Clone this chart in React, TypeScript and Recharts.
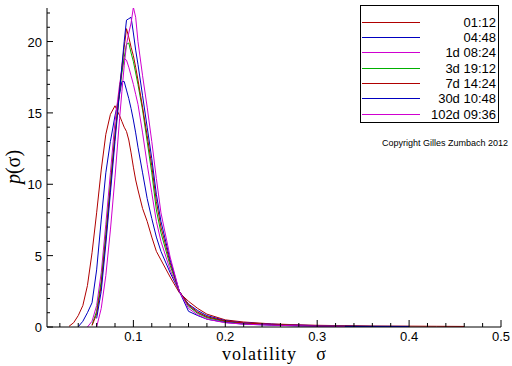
import { LineChart, Line, XAxis, YAxis, Legend } from "recharts";

// volatility grid (x values shared by every curve)
const xs = [0.025, 0.03, 0.035, 0.04, 0.045, 0.05, 0.055, 0.06, 0.065, 0.07, 0.075, 0.08, 0.085, 0.0875, 0.09, 0.0925, 0.095, 0.0975, 0.1, 0.1025, 0.105, 0.11, 0.115, 0.12, 0.125, 0.13, 0.14, 0.15, 0.16, 0.17, 0.18, 0.2, 0.22, 0.25, 0.28, 0.3, 0.33, 0.36, 0.4, 0.43, 0.46];

const s0112 = [null, 0.05, 0.3, 0.8, 1.5, 2.9, 5.2, 8.0, 11.0, 13.5, 14.9, 15.5, 14.8, 14.4, 14.0, 13.7, 13.1, 12.2, 11.2, 10.3, 9.6, 8.3, 7.4, 6.3, 5.3, 4.7, 3.5, 2.4, 1.8, 1.3, 0.9, 0.5, 0.35, 0.22, 0.15, 0.12, 0.09, 0.07, 0.06, 0.05, 0.04];
const s0448 = [null, null, null, 0.02, 0.4, 1.0, 1.7, 4.0, 7.5, 10.8, 13.0, 14.8, 16.3, 17.2, 17.2, 16.6, 16.0, 15.3, 14.5, 13.6, 12.6, 10.8, 9.0, 7.6, 6.3, 5.3, 3.8, 2.5, 1.6, 1.15, 0.8, 0.45, 0.3, 0.2, 0.13, 0.1, 0.07, 0.05, 0.04, null, null];
const s1d = [null, null, null, null, null, 0.0, 0.4, 1.5, 3.8, 7.2, 10.8, 14.4, 17.0, 18.0, 18.8, 18.7, 18.2, 17.6, 17.0, 16.3, 15.6, 13.6, 11.4, 9.4, 7.4, 6.0, 4.0, 2.5, 1.5, 1.0, 0.7, 0.4, 0.28, 0.18, 0.12, 0.09, 0.06, null, null, null, null];
const s3d = [null, null, null, null, null, null, 0.15, 1.1, 3.2, 6.5, 10.0, 13.5, 16.5, 17.8, 18.9, 19.8, 19.9, 19.2, 18.6, 17.8, 17.0, 15.2, 13.0, 10.8, 8.2, 6.6, 4.3, 2.5, 1.45, 0.95, 0.65, 0.38, 0.25, 0.16, 0.1, 0.08, 0.05, null, null, null, null];
const s7d = [null, null, null, null, null, null, 0.1, 0.9, 2.9, 6.2, 9.8, 13.4, 16.6, 18.2, 19.6, 20.9, 20.3, 19.6, 19.0, 18.2, 17.3, 15.4, 13.4, 11.3, 8.8, 7.0, 4.5, 2.5, 1.55, 1.05, 0.72, 0.42, 0.28, 0.18, 0.12, 0.09, 0.06, 0.04, null, null, null];
const s30d = [null, null, null, null, null, null, null, 0.6, 2.5, 5.8, 9.4, 13.0, 16.5, 18.3, 20.0, 21.5, 21.6, 21.7, 20.6, 19.4, 18.4, 16.2, 14.0, 11.8, 9.3, 7.4, 4.7, 2.5, 1.1, 0.8, 0.55, 0.32, 0.2, 0.13, 0.08, 0.06, 0.04, 0.03, 0.02, null, null];
const s102d = [null, null, null, null, null, null, null, 0.0, 1.3, 3.6, 6.8, 10.5, 14.6, 16.5, 18.3, 19.8, 20.6, 21.3, 22.4, 21.7, 20.0, 17.6, 15.4, 13.0, 10.4, 8.0, 4.9, 2.5, 1.3, 0.85, 0.55, 0.3, 0.2, 0.13, 0.08, 0.06, 0.04, null, null, null, null];

const seriesLabels = ["01:12", "04:48", "1d 08:24", "3d 19:12", "7d 14:24", "30d 10:48", "102d 09:36"];
const seriesColors = ["#b00000", "#0000c0", "#d000d0", "#00b000", "#b00000", "#0000c0", "#d000d0"];
const seriesValues = [s0112, s0448, s1d, s3d, s7d, s30d, s102d];

const xTicks = [0.02, 0.04, 0.06, 0.08, 0.1, 0.12, 0.14, 0.16, 0.18, 0.2, 0.22, 0.24, 0.26, 0.28, 0.3, 0.32, 0.34, 0.36, 0.38, 0.4, 0.42, 0.44, 0.46, 0.48, 0.5];
const yTicks = [0, 1, 2, 3, 4, 5, 6, 7, 8, 9, 10, 11, 12, 13, 14, 15, 16, 17, 18, 19, 20, 21, 22];

const data = xs.map((x, i) => {
    const row: Record<string, number | null> = { x };
    seriesValues.forEach((s, k) => { row[`s${k}`] = s[i]; });
    return row;
});

const tickFont = "'Liberation Sans', Arial, sans-serif";
const serif = "'Liberation Serif', 'Times New Roman', serif";

const XTick = ({ x, y, payload }: any) => {
    const v = payload.value;
    const major = Math.abs(v * 10 - Math.round(v * 10)) < 1e-6;
    return (
        <g>
            <line x1={x} y1={y} x2={x} y2={y - (major ? 7 : 4)} stroke="#000" />
            {major && (
                <text x={x} y={y + 14} textAnchor="middle" fontSize={13} fontFamily={tickFont} fill="#000">{v.toFixed(1)}</text>
            )}
        </g>
    );
};

const YTick = ({ x, y, payload }: any) => {
    const v = payload.value;
    const major = v % 5 === 0;
    return (
        <g>
            <line x1={x} y1={y} x2={x + (major ? 6 : 3)} y2={y} stroke="#000" />
            {major && (
                <text x={x - 5} y={y + 5} textAnchor="end" fontSize={13} fontFamily={tickFont} fill="#000">{v}</text>
            )}
        </g>
    );
};

// legend keeps the series order (Recharts sorts its payload by name)
const LegendBox = () => (
    <svg width={139} height={118} style={{ display: "block" }}>
        <rect x={0.5} y={0.5} width={138} height={117} fill="#fff" stroke="#000" />
        {seriesLabels.map((label, i) => {
            const cy = Math.round(16.7 + i * 15.3) + 0.5;
            return (
                <g key={`leg-${i}`}>
                    <line x1={2} x2={60} y1={cy} y2={cy} stroke={seriesColors[i]} />
                    <text x={136} y={cy + 4.5} textAnchor="end" fontSize={13} fontFamily={tickFont} fill="#000">{label}</text>
                </g>
            );
        })}
    </svg>
);

export default function App() {
    return (
        <div style={{ position: "absolute", left: 0, top: 0, width: 512, height: 366, background: "#fff" }}>
            <LineChart width={512} height={366} data={data} margin={{ top: 8, right: 11, left: 0, bottom: 0 }}>
                <XAxis
                    dataKey="x"
                    type="number"
                    domain={[0.006, 0.5]}
                    allowDataOverflow
                    ticks={xTicks}
                    interval={0}
                    tickSize={0}
                    tickMargin={0}
                    tick={<XTick />}
                    height={39}
                    stroke="#000"
                />
                <YAxis
                    type="number"
                    domain={[0, 22.35]}
                    allowDataOverflow
                    ticks={yTicks}
                    interval={0}
                    tickSize={0}
                    tickMargin={0}
                    tick={<YTick />}
                    width={47}
                    stroke="#000"
                />
                <Legend
                    layout="vertical"
                    align="center"
                    verticalAlign="middle"
                    content={<LegendBox />}
                    wrapperStyle={{ left: 360, top: 5, width: 139, height: 118 }}
                />
                {seriesLabels.map((name, k) => (
                    <Line
                        key={name}
                        dataKey={`s${k}`}
                        name={name}
                        type="linear"
                        stroke={seriesColors[k]}
                        strokeWidth={1}
                        dot={false}
                        isAnimationActive={false}
                    />
                ))}
            </LineChart>
            <svg width={512} height={366} style={{ position: "absolute", left: 0, top: 0, pointerEvents: "none" }}>
                <text x={508} y={146} textAnchor="end" fontSize={9} fontFamily={tickFont} fill="#000">Copyright Gilles Zumbach 2012</text>
                <text x={222} y={360} fontSize={18} letterSpacing={1} fontFamily={serif} fill="#000">volatility</text>
                <text x={321} y={360} textAnchor="middle" fontSize={18} fontFamily={serif} fill="#000">σ</text>
                <text x={0} y={0} transform="translate(20,167) rotate(-90)" textAnchor="middle" fontSize={20} fontFamily={serif} fill="#000">
                    <tspan fontStyle="italic">p</tspan>(σ)
                </text>
            </svg>
        </div>
    );
}
